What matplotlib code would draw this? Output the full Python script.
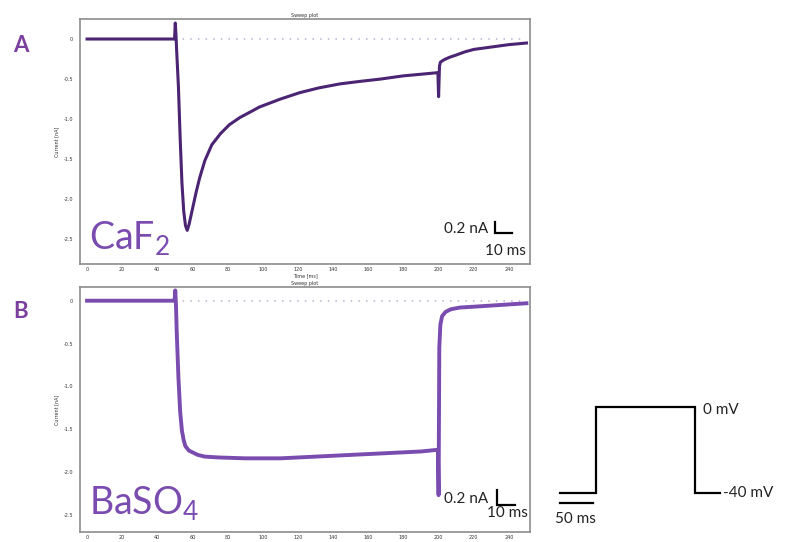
import matplotlib.pyplot as plt

# CaF2 recording (time in ms, current in nA)
caf2_time = [0, 10, 20, 30, 40, 49.8, 50.2, 50.6, 51, 52, 53, 54, 55, 56, 57, 58, 60, 62, 64,
             67, 71, 76, 81, 87, 93, 98, 104, 110, 121, 132, 144, 155, 167, 180, 190, 199.6,
             200, 200.5, 201, 203, 206, 210, 215, 220, 230, 240, 250]
caf2_current = [0, 0, 0, 0, 0, 0, 0.2, 0.05, -0.15, -0.6, -1.25, -1.8, -2.15, -2.33, -2.39, -2.32,
                -2.12, -1.92, -1.74, -1.52, -1.32, -1.18, -1.07, -0.98, -0.91, -0.85, -0.8, -0.75,
                -0.67, -0.61, -0.56, -0.53, -0.5, -0.46, -0.44, -0.42,
                -0.72, -0.34, -0.29, -0.26, -0.23, -0.2, -0.16, -0.13, -0.1, -0.07, -0.05]

# BaSO4 recording
baso4_time = [0, 10, 20, 30, 40, 49.8, 50.2, 50.6, 51, 52, 53, 54, 55, 56, 58, 60, 63, 67, 75,
              90, 110, 130, 150, 170, 190, 199.6, 200, 200.4, 201, 202, 204, 207, 212, 220, 235, 250]
baso4_current = [0, 0, 0, 0, 0, 0, 0.12, -0.05, -0.35, -0.9, -1.3, -1.52, -1.63, -1.7, -1.75,
                 -1.77, -1.8, -1.82, -1.83, -1.84, -1.84, -1.82, -1.8, -1.78, -1.76, -1.74,
                 -2.27, -0.55, -0.28, -0.18, -0.13, -0.1, -0.08, -0.07, -0.05, -0.03]

# voltage step protocol (ms, mV)
protocol_time = [0, 55, 55, 205, 205, 243]
protocol_mv = [-40, -40, 0, 0, -40, -40]

x_ticks = list(range(0, 241, 20))
y_ticks = [0, -0.5, -1.0, -1.5, -2.0, -2.5]
y_tick_labels = ['0', '-0.5', '-1.0', '-1.5', '-2.0', '-2.5']

purple_dark = '#4b2473'
purple_mid = '#7a4cb0'
label_purple = '#7b3f9e'
text_font = ['Lato', 'DejaVu Sans']

W, H = 799, 542
fig = plt.figure(figsize=(W / 100, H / 100), dpi=100)


def px_axes(left, top, right, bottom):
    return fig.add_axes([left / W, 1 - bottom / H, (right - left) / W, (bottom - top) / H])


def setup_panel(ax, ylim):
    ax.set_xlim(-4, 252)
    ax.set_ylim(*ylim)
    ax.set_xticks(x_ticks)
    ax.set_yticks(y_ticks)
    ax.set_yticklabels(y_tick_labels)
    ax.tick_params(labelsize=3.5, length=0, colors='#333333')
    ax.tick_params(axis='x', pad=2.5)
    ax.tick_params(axis='y', pad=5)
    for s in ax.spines.values():
        s.set_color('#8c8c8c')
        s.set_linewidth(1.2)
    ax.set_title('Sweep plot', fontsize=3.5, pad=1.5, color='#333333')
    ax.set_ylabel('Current [nA]', fontsize=3.5, labelpad=3, color='#333333')
    ax.plot([50, 250], [0, 0], color='#bcaecd', lw=1.1, linestyle=(0, (1, 4)))


def scale_bar(ax, x0, y0, x1, y1, lab_x, lab_y, ms_x, ms_y):
    ax.plot([x0, x0, x1], [y1, y0, y0], color='black', lw=1.6, transform=ax.transAxes,
            solid_joinstyle='miter')
    ax.text(lab_x, lab_y, '0.2 nA', transform=ax.transAxes, ha='right', va='baseline',
            fontsize=11, family=text_font, color='#222222')
    ax.text(ms_x, ms_y, '10 ms', transform=ax.transAxes, ha='right', va='baseline',
            fontsize=11, family=text_font, color='#222222')


# Panel A
ax1 = px_axes(80, 19, 530, 264)
setup_panel(ax1, (-2.81, 0.25))
ax1.plot(caf2_time, caf2_current, color=purple_dark, lw=2.2)
ax1.set_xlabel('Time [ms]', fontsize=3.5, labelpad=0.5, color='#333333')
ax1.text(0.02, 0.057, 'CaF$_\\mathregular{2}$', transform=ax1.transAxes, fontsize=27,
         family=text_font, color=purple_mid, va='baseline')
scale_bar(ax1, 0.922, 0.127, 0.96, 0.171, 0.907, 0.127, 0.991, 0.037)

# Panel B
ax2 = px_axes(80, 287, 530, 532)
setup_panel(ax2, (-2.7, 0.16))
ax2.plot(baso4_time, baso4_current, color=purple_mid, lw=2.8)
ax2.text(0.02, 0.069, 'BaSO$_\\mathregular{4}$', transform=ax2.transAxes, fontsize=27,
         family=text_font, color=purple_mid, va='baseline')
scale_bar(ax2, 0.927, 0.11, 0.967, 0.171, 0.907, 0.118, 0.996, 0.061)

fig.text(13 / W, 1 - 52 / H, 'A', fontsize=16, fontweight='bold', family=text_font,
         color=label_purple, va='baseline')
fig.text(13 / W, 1 - 318 / H, 'B', fontsize=16, fontweight='bold', family=text_font,
         color=label_purple, va='baseline')

# voltage protocol sketch
ax3 = px_axes(540, 390, 799, 530)
ax3.set_xlim(-30.3, 362.1)
ax3.set_ylim(-57.2, 7.9)
ax3.axis('off')
ax3.plot(protocol_time, protocol_mv, color='black', lw=1.6, solid_joinstyle='miter')
ax3.plot([0, 50], [-44.7, -44.7], color='black', lw=1.6)
ax3.text(-7, -52, '50 ms', fontsize=11, family=text_font, color='#222222', va='center')
ax3.text(217, -1.2, '0 mV', fontsize=11, family=text_font, color='#222222', va='center')
ax3.text(247, -40, '-40 mV', fontsize=11, family=text_font, color='#222222', va='center')

fig.savefig('out.png', dpi=100)
